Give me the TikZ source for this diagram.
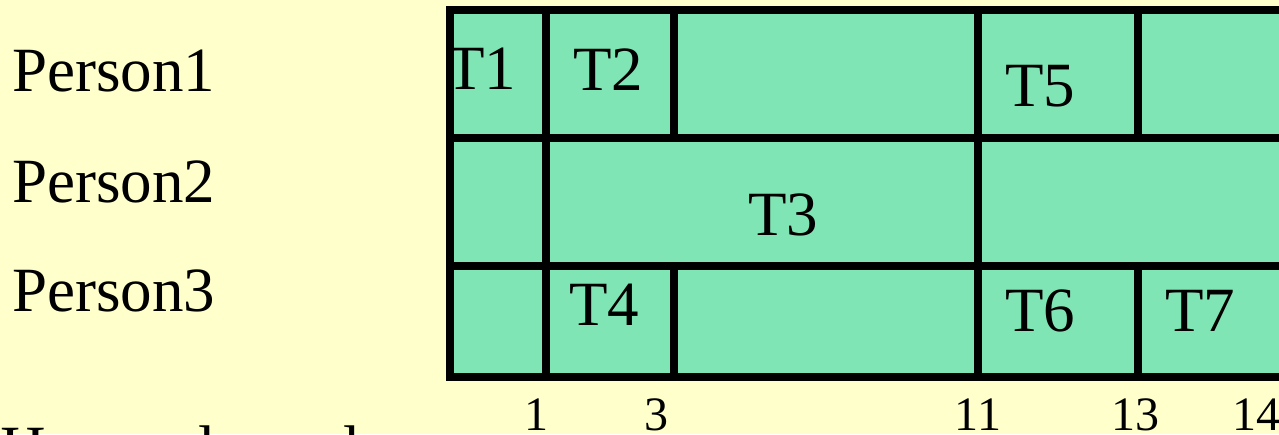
\documentclass[tikz,border=0pt]{standalone}
\usepackage{fontspec}
\setmainfont{Liberation Serif}
\usetikzlibrary{positioning}
\definecolor{slotgreen}{HTML}{80E5B5}
\definecolor{paperyel}{HTML}{FFFFCC}
\tikzset{
  gc rule/.style={draw=black, line width=4pt},
  gc task/.style={font=\fontsize{31.5}{36}\selectfont, inner sep=0pt, anchor=base},
  gc who/.style={gc task, anchor=base west},
  gc hour/.style={font=\fontsize{24}{28}\selectfont, inner sep=0pt, anchor=base},
}

\begin{document}
\begin{tikzpicture}[x=0.5pt, y=-0.5pt]
  \useasboundingbox (0,0) rectangle (1279,434);
  \clip (0,0) rectangle (1279,434);
  \fill[paperyel] (0,0) rectangle (1279,434);
  \fill[slotgreen] (450,10) rectangle (1300,377);
  % who works in which row
  \node[gc who] (p1) at (12,91) {Person1};
  \node[gc who] (p2) at (12,202) {Person2};
  \node[gc who] (p3) at (12,311) {Person3};
  % task labels
  \node[gc task] (t1) at (481,89) {T1};
  \node[gc task] (t2) at (608,90) {T2};
  \node[gc task] (t3) at (783,235) {T3};
  \node[gc task] (t4) at (604,325) {T4};
  \node[gc task] (t5) at (1040,106) {T5};
  \node[gc task] (t6) at (1040,331) {T6};
  \node[gc task] (t7) at (1200,331) {T7};
  % cell borders, one row at a time
  \foreach \xa/\xb in {450/546,546/674,674/978,978/1138,1138/1300}
    \draw[gc rule] (\xa,10) rectangle (\xb,138);
  \foreach \xa/\xb in {450/546,546/978,978/1300}
    \draw[gc rule] (\xa,138) rectangle (\xb,266);
  \foreach \xa/\xb in {450/546,546/674,674/978,978/1138,1138/1300}
    \draw[gc rule] (\xa,266) rectangle (\xb,377);
  % hour marks under the chart
  \foreach \h/\x in {1/536,3/656,11/978,13/1135,14/1256}
    \node[gc hour] (h\h) at (\x,430) {\h};
  \node[gc who] (axis) at (0,469) {Hours elapsed};
\end{tikzpicture}
\end{document}
